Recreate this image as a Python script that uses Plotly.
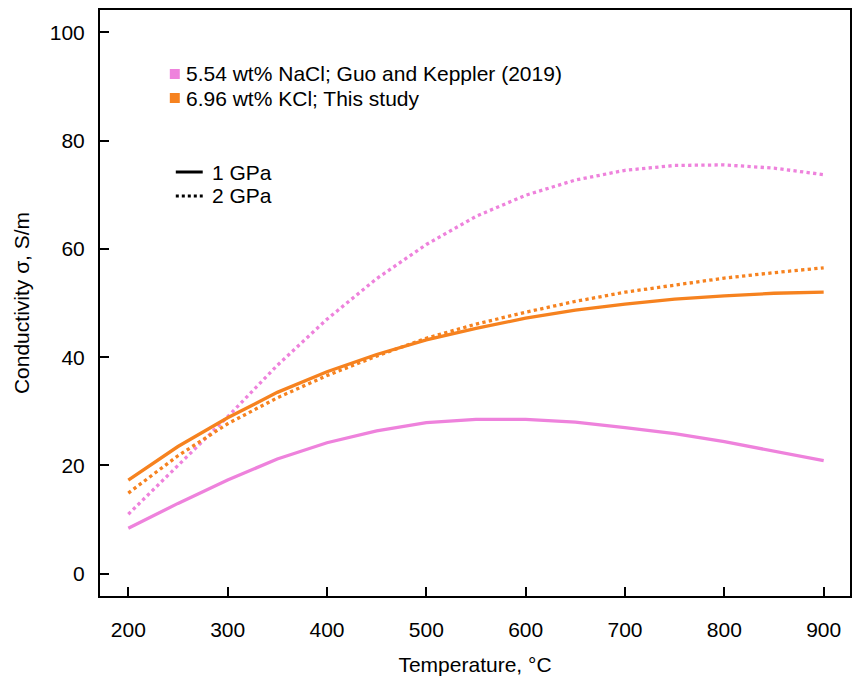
import plotly.graph_objects as go

temperature = [200, 250, 300, 350, 400, 450, 500, 550, 600, 650, 700, 750, 800, 850, 900]

nacl_1gpa = [8.4, 13.0, 17.3, 21.2, 24.2, 26.4, 27.9, 28.5, 28.5, 28.0, 27.0, 25.9, 24.4, 22.7, 20.9]
nacl_2gpa = [11.0, 20.0, 29.0, 38.5, 47.0, 54.5, 60.8, 66.0, 69.9, 72.7, 74.5, 75.4, 75.5, 74.9, 73.7]
kcl_1gpa = [17.3, 23.5, 28.8, 33.5, 37.3, 40.5, 43.2, 45.3, 47.2, 48.7, 49.8, 50.7, 51.3, 51.8, 52.0]
kcl_2gpa = [14.9, 21.8, 27.7, 32.5, 36.6, 40.2, 43.5, 46.1, 48.3, 50.3, 52.0, 53.3, 54.6, 55.6, 56.5]

x_ticks = [200, 300, 400, 500, 600, 700, 800, 900]
y_ticks = [0, 20, 40, 60, 80, 100]

PINK = "#EE82DC"
ORANGE = "#F6821F"
FONT = "Liberation Sans, Arial, sans-serif"
FS = 21

fig = go.Figure()
series = [
    (nacl_1gpa, PINK, "solid"),
    (nacl_2gpa, PINK, "dot"),
    (kcl_1gpa, ORANGE, "solid"),
    (kcl_2gpa, ORANGE, "dot"),
]
for ys, col, dash in series:
    fig.add_trace(go.Scatter(x=temperature, y=ys, mode="lines",
                             line=dict(color=col, width=3.3, dash=dash),
                             showlegend=False, hoverinfo="skip"))

L, R, T, B = 100, 2, 10, 84
W, H = 854, 680
pw, ph = W - L - R, H - T - B

def px(x):
    return (x - L) / pw

def py(y):
    return (H - B - y) / ph

shapes = []
annotations = []
# color legend
for yy, col, txt in [(74, PINK, "5.54 wt% NaCl; Guo and Keppler (2019)"),
                     (98, ORANGE, "6.96 wt% KCl; This study")]:
    shapes.append(dict(type="rect", xref="paper", yref="paper",
                       x0=px(170), x1=px(180), y0=py(yy + 5), y1=py(yy - 5),
                       fillcolor=col, line=dict(width=0)))
    annotations.append(dict(xref="paper", yref="paper", x=px(184), y=py(yy),
                            text=txt, showarrow=False, xanchor="left", yanchor="middle",
                            font=dict(family=FONT, size=FS, color="#000")))
# pressure legend
for yy, dash, txt in [(172, "solid", "1 GPa"), (196, "dot", "2 GPa")]:
    shapes.append(dict(type="line", xref="paper", yref="paper",
                       x0=px(176), x1=px(203), y0=py(yy), y1=py(yy),
                       line=dict(color="#000", width=3, dash=dash)))
    annotations.append(dict(xref="paper", yref="paper", x=px(210), y=py(yy),
                            text=txt, showarrow=False, xanchor="left", yanchor="middle",
                            font=dict(family=FONT, size=FS, color="#000")))

axis_common = dict(showline=True, linecolor="#000", linewidth=2, mirror=True,
                   ticks="inside", ticklen=9, tickwidth=2, tickcolor="#000",
                   showgrid=False, zeroline=False,
                   tickfont=dict(family=FONT, size=FS, color="#000"))

fig.update_layout(
    width=W, height=H,
    margin=dict(l=L, r=R, t=T, b=B),
    paper_bgcolor="white", plot_bgcolor="white",
    shapes=shapes, annotations=annotations,
    xaxis=dict(range=[171.5, 926.5], tickvals=x_ticks, ticklabelstandoff=14,
               title=dict(text="Temperature, °C", font=dict(family=FONT, size=FS, color="#000"),
                          standoff=17),
               **axis_common),
    yaxis=dict(range=[-4.1, 104.1], tickvals=y_ticks, ticklabelstandoff=9,
               title=dict(text="Conductivity σ, S/m", font=dict(family=FONT, size=FS, color="#000"),
                          standoff=14),
               **axis_common),
)

fig.write_html("out.html")
